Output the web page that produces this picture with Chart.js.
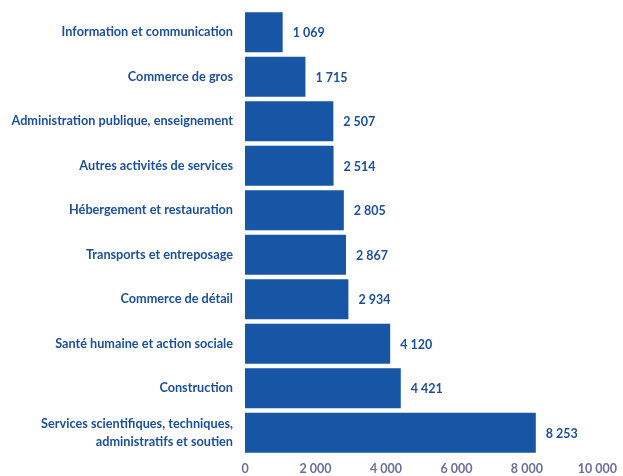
<!DOCTYPE html>
<html lang="fr">
<head>
<meta charset="UTF-8">
<title>Effectifs par secteur</title>
<script src="https://cdn.jsdelivr.net/npm/chart.js"></script>
<style>
  html, body { margin: 0; padding: 0; background: #fff; }
  #wrap { width: 623px; height: 476px; position: relative; }
</style>
</head>
<body>
<div id="wrap"><canvas id="sectorChart"></canvas></div>
<script>
// secteurs, du plus petit au plus grand
const sectors = [
  'Information et communication',
  'Commerce de gros',
  'Administration publique, enseignement',
  'Autres activités de services',
  'Hébergement et restauration',
  'Transports et entreposage',
  'Commerce de détail',
  'Santé humaine et action sociale',
  'Construction',
  ['Services scientifiques, techniques,', 'administratifs et soutien']
];
const counts = [1069, 1715, 2507, 2514, 2805, 2867, 2934, 4120, 4421, 8253];
const xTicks = [0, 2000, 4000, 6000, 8000, 10000];

const barColor = '#1656a4';
const labelColor = '#1b4f9c';
const tickColor = '#6b6e9a';

function fmt(n) {
  return String(n).replace(/\B(?=(\d{3})+(?!\d))/g, ' ');
}

// valeur écrite au bout de chaque barre
const valueLabels = {
  id: 'valueLabels',
  afterDatasetsDraw(chart) {
    const ctx = chart.ctx;
    const meta = chart.getDatasetMeta(0);
    ctx.save();
    ctx.font = 'bold 12.5px Lato, sans-serif';
    ctx.fillStyle = labelColor;
    ctx.textAlign = 'left';
    ctx.textBaseline = 'middle';
    meta.data.forEach((bar, i) => {
      ctx.fillText(fmt(counts[i]), bar.x + 10, bar.y + 1);
    });
    ctx.restore();
  }
};

new Chart(document.getElementById('sectorChart'), {
  type: 'bar',
  data: {
    labels: sectors,
    datasets: [{
      data: counts,
      backgroundColor: barColor,
      barPercentage: 0.9,
      categoryPercentage: 1.0
    }]
  },
  options: {
    indexAxis: 'y',
    responsive: true,
    maintainAspectRatio: false,
    animation: false,
    layout: { padding: { top: 10, right: 25, bottom: 0, left: 0 } },
    plugins: {
      legend: { display: false },
      tooltip: { enabled: false }
    },
    scales: {
      x: {
        min: 0,
        max: 10000,
        afterBuildTicks(scale) {
          scale.ticks = xTicks.map(v => ({ value: v }));
        },
        afterFit(scale) { scale.height = 21; },
        grid: { display: false, drawTicks: false },
        border: { display: false },
        ticks: {
          color: tickColor,
          font: { family: 'Lato', size: 12.5, weight: 'bold' },
          padding: 6,
          maxRotation: 0,
          callback: v => fmt(v)
        }
      },
      y: {
        afterFit(scale) {
          scale.width = 245;
          scale.paddingTop = 0;
          scale.paddingBottom = 0;
        },
        grid: { display: false, drawTicks: false },
        border: { display: false },
        ticks: {
          color: labelColor,
          font: { family: 'Lato', size: 12.7, weight: 'bold', lineHeight: 1.45 },
          padding: 12
        }
      }
    }
  },
  plugins: [valueLabels]
});
</script>
</body>
</html>
